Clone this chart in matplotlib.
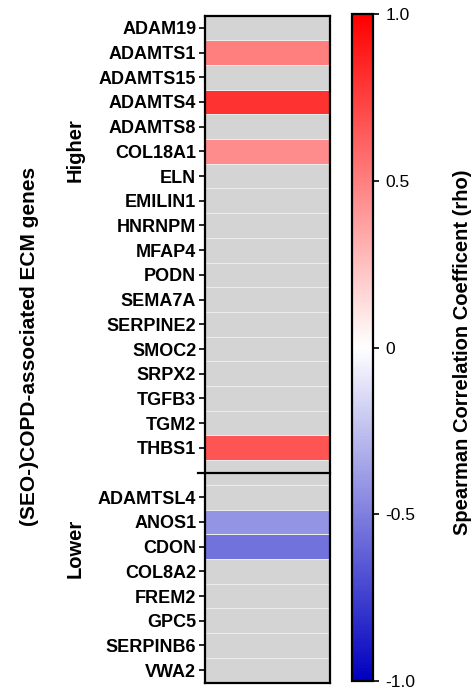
import numpy as np
import matplotlib
matplotlib.use("Agg")
import matplotlib.pyplot as plt
from matplotlib.colors import LinearSegmentedColormap, Normalize
from matplotlib.cm import ScalarMappable

plt.rcParams["font.family"] = ["Liberation Sans", "DejaVu Sans"]

# genes with higher / lower expression, rho only where significant (NaN = grey)
higher_genes = ["ADAM19", "ADAMTS1", "ADAMTS15", "ADAMTS4", "ADAMTS8", "COL18A1",
                "ELN", "EMILIN1", "HNRNPM", "MFAP4", "PODN", "SEMA7A",
                "SERPINE2", "SMOC2", "SRPX2", "TGFB3", "TGM2", "THBS1"]
higher_rho = [np.nan, 0.50, np.nan, 0.80, np.nan, 0.45,
              np.nan, np.nan, np.nan, np.nan, np.nan, np.nan,
              np.nan, np.nan, np.nan, np.nan, np.nan, 0.67]

lower_genes = ["ADAMTSL4", "ANOS1", "CDON", "COL8A2", "FREM2", "GPC5", "SERPINB6", "VWA2"]
lower_rho = [np.nan, -0.42, -0.55, np.nan, np.nan, np.nan, np.nan, np.nan]

cbar_ticks = [-1.0, -0.5, 0, 0.5, 1.0]
cbar_ticklabels = ["-1.0", "-0.5", "0", "0.5", "1.0"]

# one empty row between the two groups
labels = higher_genes + [""] + lower_genes
rho = np.array(higher_rho + [np.nan] + lower_rho)
n = len(labels)
gap = len(higher_genes)

cmap = LinearSegmentedColormap.from_list("bwr_gp", ["#0000bf", "#ffffff", "#ff0000"])
cmap.set_bad("#d4d4d4")
norm = Normalize(vmin=-1, vmax=1)

fig = plt.figure(figsize=(4.71, 6.88), dpi=100)
ax = fig.add_axes([205 / 471, 5.5 / 688, 125 / 471, 667 / 688])

data = np.ma.masked_invalid(rho.reshape(-1, 1))
ax.pcolormesh(np.array([0, 1]), np.arange(n + 1), data, cmap=cmap, norm=norm,
              edgecolors="#ececec", linewidth=0.6)
ax.set_xlim(0, 1)
ax.set_ylim(n, 0)

rows = [i for i in range(n) if i != gap]
ax.set_yticks([i + 0.5 for i in rows])
ax.set_yticklabels([labels[i] for i in rows], fontsize=13, fontweight="bold")
ax.set_xticks([])
ax.tick_params(axis="y", length=4.3, width=1.2, pad=2)
for s in ax.spines.values():
    s.set_linewidth(1.6)

# separator between the groups
ax.plot([-0.06, 1], [gap + 0.5, gap + 0.5], color="black", lw=1.6, clip_on=False)

fig.text(30 / 471, 1 - 346 / 688, "(SEO-)COPD-associated ECM genes", rotation=90,
         ha="center", va="center", fontsize=15, fontweight="bold")
fig.text(75 / 471, 1 - 150 / 688, "Higher", rotation=90,
         ha="center", va="center", fontsize=14.5, fontweight="bold")
fig.text(75 / 471, 1 - 548 / 688, "Lower", rotation=90,
         ha="center", va="center", fontsize=14.5, fontweight="bold")

cax = fig.add_axes([352 / 471, 7 / 688, 21 / 471, 667 / 688])
cb = fig.colorbar(ScalarMappable(norm=norm, cmap=cmap), cax=cax, ticks=cbar_ticks)
cb.ax.set_yticklabels(cbar_ticklabels, fontsize=12.5)
cb.ax.tick_params(length=4, width=1.2, pad=5)
cb.outline.set_linewidth(1.6)

fig.text(462 / 471, 1 - 352 / 688, "Spearman Correlation Coefficent (rho)", rotation=90,
         ha="center", va="center", fontsize=14.5, fontweight="bold")

fig.savefig("out.png", dpi=100)
